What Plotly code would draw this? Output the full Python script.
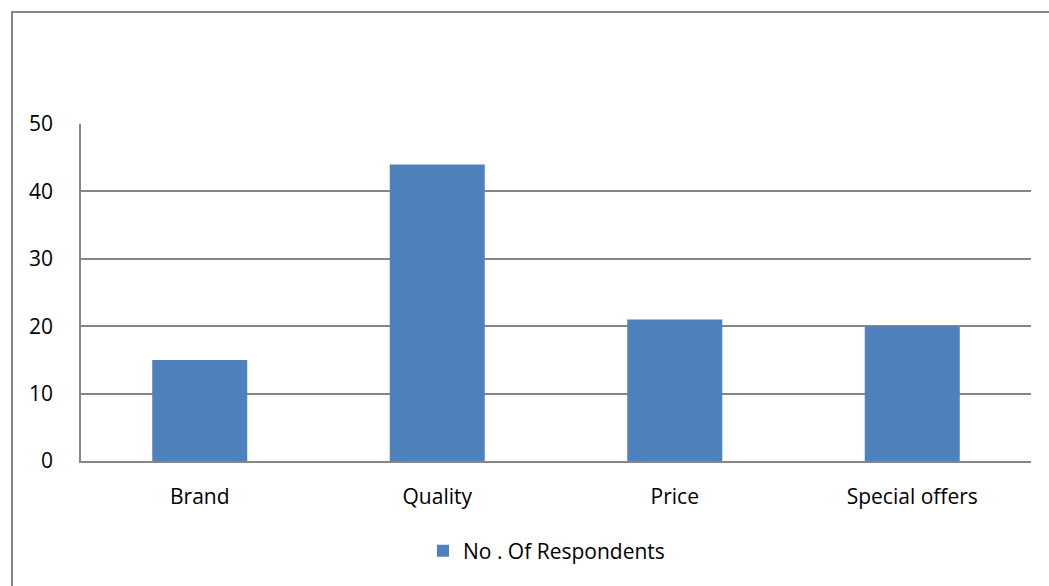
import plotly.graph_objects as go

categories = ["Brand", "Quality", "Price", "Special offers"]
respondents = [15, 44, 21, 20]
series_name = "No . Of Respondents"
y_ticks = [0, 10, 20, 30, 40, 50]

W, H = 1049, 586
L, R, T, B = 81, 18, 124, 125
pw, ph = W - L - R, H - T - B

def px_x(x):
    return (x - L) / pw

def px_y(y):
    return (H - B - y) / ph

grid = "#868686"
font = dict(family="Open Sans, Liberation Sans, sans-serif", size=21, color="#000000")

fig = go.Figure(
    go.Bar(
        x=categories,
        y=respondents,
        name=series_name,
        marker=dict(color="#4F81BD", line=dict(width=0)),
        showlegend=True,
    )
)

fig.update_layout(
    width=W,
    height=H,
    margin=dict(l=L, r=R, t=T, b=B, pad=0),
    paper_bgcolor="white",
    plot_bgcolor="white",
    bargap=0.6,
    font=font,
    showlegend=True,
    legend=dict(
        orientation="h",
        x=0.49,
        xanchor="center",
        y=px_y(551),
        yanchor="middle",
        font=font,
        itemwidth=30,
    ),
    xaxis=dict(
        showgrid=False,
        showline=True,
        linecolor=grid,
        linewidth=1.5,
        ticks="",
        tickfont=font,
        ticklabelstandoff=16,
    ),
    yaxis=dict(
        range=[0, 50],
        tickvals=y_ticks,
        showgrid=True,
        gridcolor=grid,
        gridwidth=1.5,
        showline=True,
        linecolor=grid,
        linewidth=1.5,
        zeroline=False,
        ticks="",
        tickfont=font,
        ticklabelstandoff=22,
    ),
    shapes=[
        dict(
            type="rect",
            xref="paper",
            yref="paper",
            x0=px_x(12),
            x1=px_x(W + 10),
            y0=px_y(12),
            y1=px_y(H + 10),
            line=dict(color=grid, width=2),
            fillcolor="rgba(0,0,0,0)",
            layer="below",
        )
    ],
)

fig.write_html("out.html")
